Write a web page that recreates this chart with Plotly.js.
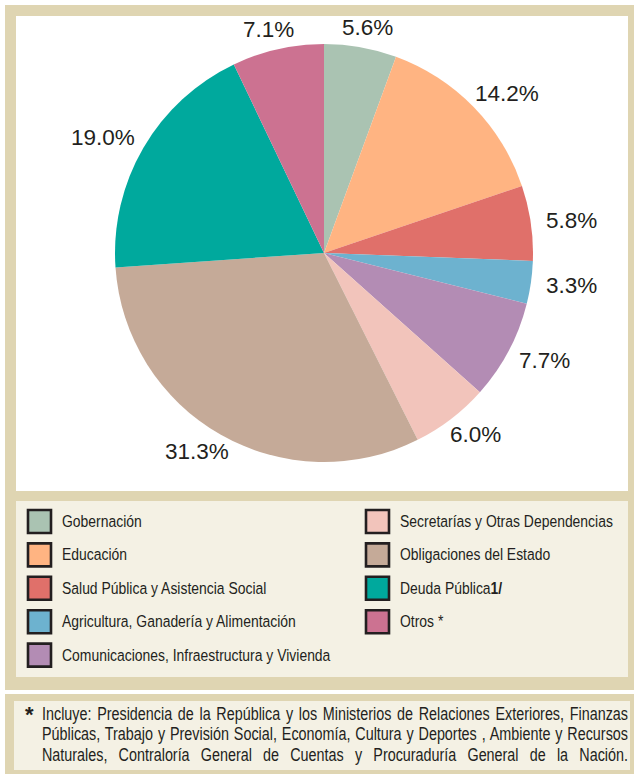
<!DOCTYPE html>
<html><head><meta charset="utf-8">
<script src="https://cdn.plot.ly/plotly-3.0.1.min.js"></script>
<style>
html,body{margin:0;padding:0;background:#fff;}
#wrap{position:relative;width:634px;height:774px;overflow:hidden;}
#chart{position:absolute;left:0;top:0;width:634px;height:774px;}
#star{position:absolute;left:25px;top:702px;font-family:"Liberation Sans",Arial,sans-serif;font-weight:bold;font-size:22px;color:#231f20;}
#note{position:absolute;left:42px;top:704px;width:714.6px;transform:scaleX(0.82);transform-origin:0 0;font-family:"Liberation Sans",Arial,sans-serif;font-size:17.5px;line-height:20.3px;color:#231f20;}
#note div{text-align:justify;text-align-last:justify;white-space:nowrap;}
</style></head>
<body>
<div id="wrap">
<div id="chart"></div>
<div id="star">*</div>
<div id="note">
<div>Incluye: Presidencia de la República y los Ministerios de Relaciones Exteriores, Finanzas</div>
<div>Públicas, Trabajo y Previsión Social, Economía, Cultura y Deportes , Ambiente y Recursos</div>
<div>Naturales, Contraloría General de Cuentas y Procuraduría General de la Nación.</div>
</div>
</div>
<script>
const categories = ["Gobernación","Educación","Salud Pública y Asistencia Social","Agricultura, Ganadería y Alimentación","Comunicaciones, Infraestructura y Vivienda","Secretarías y Otras Dependencias","Obligaciones del Estado","Deuda Pública<b>1/</b>","Otros *"];
const shares = [5.6,14.2,5.8,3.3,7.7,6.0,31.3,19.0,7.1];
const colors = ["#aac3b2","#ffb482","#e0706a","#6db2cf","#b38cb4","#f2c4bb","#c5aa98","#00a99d","#cc7291"];
const leftColumnCount = 5;

const W = 634, H = 774;
const px = x => x / W;
const py = y => 1 - y / H;
const BEIGE = "#dfd5b2", CREAM = "#f4f1e4", INK = "#231f20";

// pie geometry (layout)
const CX = 324, CY = 253, R = 209;

const shapes = [];
function rect(x0,y0,x1,y1,fill,line,lw,layer){
  shapes.push({type:"rect",xref:"paper",yref:"paper",x0:px(x0),x1:px(x1),y0:py(y1),y1:py(y0),
    fillcolor:fill,line:{color:line||fill,width:lw||0},layer:layer||"below"});
}
rect(5,5,640,690,BEIGE);
rect(16,16,628,491,"#ffffff");
rect(16,501,628,677,CREAM);
rect(5,694,640,780,BEIGE);
rect(14,701,630,770,CREAM);

const annotations = [];
// slice labels placed outside each slice's mid angle
const total = shares.reduce((a,b)=>a+b,0);
let cum = 0;
shares.forEach((v,i)=>{
  const mid = (cum + v/2) / total * 2 * Math.PI;
  cum += v;
  const ux = Math.sin(mid), uy = -Math.cos(mid);
  const txt = v.toFixed(1) + "%";
  const hw = txt.length * 6.2, hh = 4;
  const gap = 16;
  const x = CX + (R+gap)*ux + hw*ux;
  const y = CY + (R+gap)*uy + hh*uy;
  annotations.push({xref:"paper",yref:"paper",x:px(x),y:py(y),xanchor:"center",yanchor:"middle",
    text:txt,showarrow:false,font:{family:"Liberation Sans, Arial, sans-serif",size:22.5,color:INK}});
});

// legend
const legendStart = annotations.length;
const rowY0 = 521.5, rowStep = 33.4;
categories.forEach((c,i)=>{
  const col = i < leftColumnCount ? 0 : 1;
  const row = col === 0 ? i : i - leftColumnCount;
  const sx = col === 0 ? 27 : 365;
  const cy = rowY0 + row*rowStep;
  rect(sx+1, cy-11.5, sx+24, cy+11.5, colors[i], INK, 2.6, "above");
  annotations.push({xref:"paper",yref:"paper",x:px(sx+33),y:py(cy),xanchor:"left",yanchor:"middle",align:"left",
    text:c,showarrow:false,font:{family:"Liberation Sans, Arial, sans-serif",size:17,color:INK}});
});

const data = [{
  type:"pie", values:shares, labels:categories.map(s=>s.replace(/<[^>]+>/g,"")),
  marker:{colors:colors,line:{width:0}}, sort:false, direction:"clockwise", rotation:0,
  textinfo:"none", hoverinfo:"label+percent", showlegend:false,
  domain:{x:[px(CX-R),px(CX+R)], y:[py(CY+R),py(CY-R)]}
}];
const layout = {width:W,height:H,margin:{l:0,r:0,t:0,b:0},paper_bgcolor:"#ffffff",
  showlegend:false,shapes:shapes,annotations:annotations};
Plotly.newPlot("chart",data,layout,{displayModeBar:false,staticPlot:true}).then(gd=>{
  // narrow typeface look for the legend entries
  gd.querySelectorAll("g.annotation").forEach(g=>{
    const idx = +g.getAttribute("data-index");
    if (idx < legendStart) return;
    const t = g.querySelector("text.annotation-text");
    if (!t) return;
    const bb = t.getBBox();
    const x0 = bb.x;
    const ex = t.getAttribute("transform") || "";
    t.setAttribute("transform", ex + " translate(" + x0 + ",0) scale(0.82,1) translate(" + (-x0) + ",0)");
  });
});
</script>
</body></html>
